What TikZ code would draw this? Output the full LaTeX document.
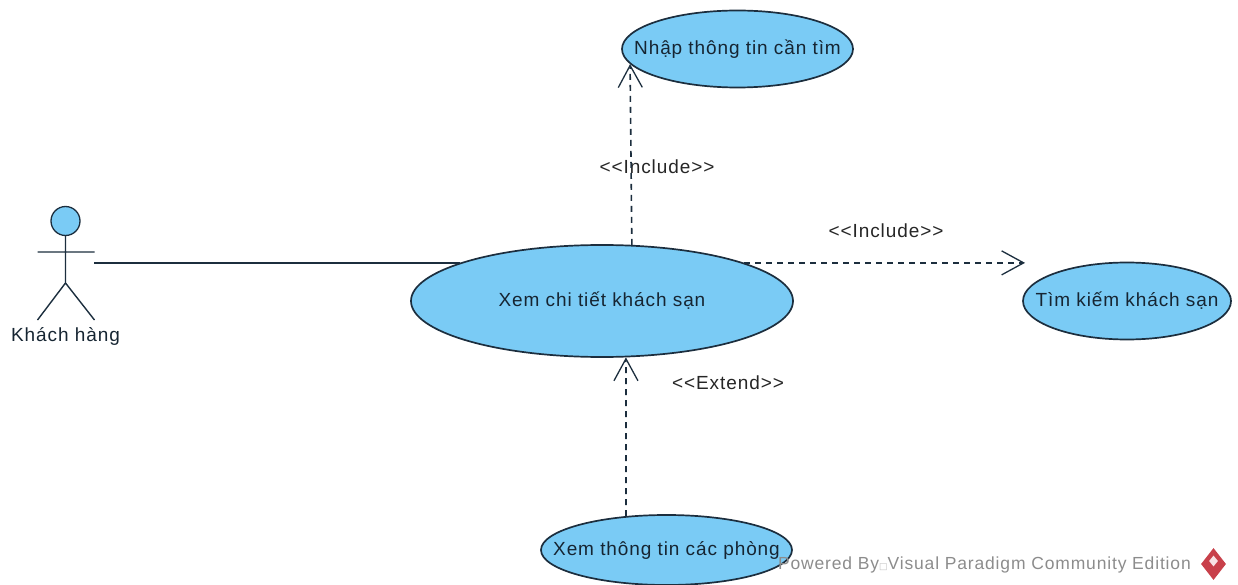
\documentclass[tikz,border=0pt]{standalone}
\usepackage{fontspec}
\setmainfont[LetterSpace=4.8]{Liberation Sans}
\newfontfamily\boxfont{DejaVu Sans}
\usetikzlibrary{arrows.meta, calc, positioning, shapes.geometric}
\definecolor{ucfill}{HTML}{7ACBF5}
\definecolor{ucline}{HTML}{1C2E3E}
\definecolor{wmgrey}{HTML}{8C8C8C}
\definecolor{wmred}{HTML}{C8404A}

\begin{document}
\begin{tikzpicture}[x=1pt, y=1pt, on grid, font=\fontsize{19}{21}\selectfont, text=ucline!80!black,
  usecase/.style={ellipse, draw=ucline, fill=ucfill, line width=1.7pt, inner ysep=0pt, inner xsep=-50pt},
  stereo/.style={text=black!85, inner sep=0pt},
  dep/.style={dashed, dash pattern=on 6pt off 5pt, line width=1.6pt, ucline,
    -{Straight Barb[length=22pt, width=24pt, line width=1.3pt]}}]
  \useasboundingbox (0,0) rectangle (1238,-585);
  \node[usecase, minimum width=382pt, minimum height=112pt] (view) at (602,-301) {Xem chi tiết khách sạn};
  \node[usecase, minimum width=231pt, minimum height=77pt] (enter) [above right=252pt and 135.5pt of view] {Nhập thông tin cần tìm};
  \node[usecase, minimum width=208pt, minimum height=77pt] (search) [right=525pt of view] {Tìm kiếm khách sạn};
  \node[usecase, minimum width=251pt, minimum height=70pt] (rooms) [below right=249pt and 64.5pt of view] {Xem thông tin các phòng};
  \node[usecase, minimum size=29pt, line width=1.3pt, inner xsep=0pt] (head) [above left=80pt and 536.5pt of view] {};
  \node (actor) [below=115pt of head] {Khách hàng};
  \node[stereo] (inctop) [above right=134pt and 55pt of view] {<{}<Include>{}>};
  \node[stereo] (incright) [above right=70pt and 284pt of view] {<{}<Include>{}>};
  \node[stereo] (ext) [below right=82pt and 126pt of view] {<{}<Extend>{}>};
  \node[inner sep=0pt, text=wmgrey, anchor=east, font=\fontsize{17.5}{19}\selectfont] (mark) at (1191,-565)
    {Powered By{\boxfont\fontsize{9}{9}\selectfont\textcolor{black!25}{□}}Visual Paradigm Community Edition};
  \node[diamond, fill=wmred, minimum width=25pt, minimum height=32pt, inner sep=0pt] (logo) at (1213.5,-564) {};
  \node[diamond, fill=white!85!wmred, minimum width=9pt, minimum height=11pt, inner sep=0pt] (logoin) at ($(logo.center)+(0,3)$) {};
  \coordinate (hip) at ($(head)+(0,-62)$);
  \coordinate (armleft) at ($(head)+(-28,-31)$);
  \coordinate (armright) at ($(head)+(29,-31)$);
  \coordinate (footleft) at ($(head)+(-28,-99)$);
  \coordinate (footright) at ($(head)+(29,-99)$);
  \coordinate (hand) at (94,-264);
  \coordinate (searchtip) at (1025,-262);
  \draw[line width=1.4pt, ucline] (head) -- (hip) (armleft) -- (armright)
    (footleft) -- (hip) -- (footright);
  \draw[line width=1.7pt, ucline] (view.165.7 -| hand) -- (view.165.7);
  \path[dep]
    (view.62.3) edge (enter.188.6)
    (view.15.3) edge (view.15.3 -| searchtip)
    (rooms.140.7) edge (view.-67.5);
\end{tikzpicture}
\end{document}
